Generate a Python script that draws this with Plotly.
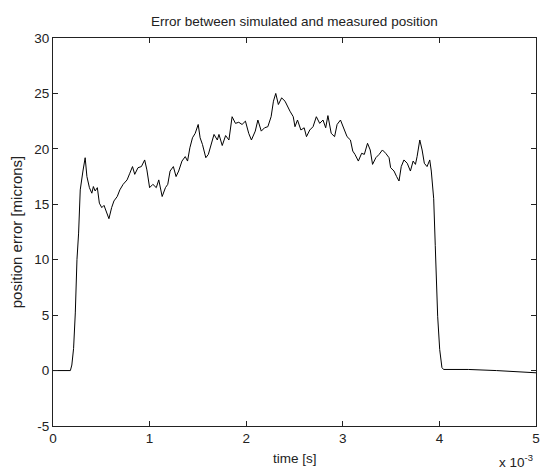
import plotly.graph_objects as go

# time in milliseconds (axis shown with x 10^-3 multiplier), error in microns
time_ms = [0.0, 0.10, 0.18, 0.195, 0.213, 0.231, 0.248, 0.265, 0.282, 0.310, 0.333, 0.351,
           0.377, 0.402, 0.418, 0.436, 0.459, 0.480, 0.505, 0.528, 0.549, 0.579, 0.607,
           0.631, 0.665, 0.692, 0.726, 0.767, 0.795, 0.823, 0.846, 0.880, 0.915, 0.949,
           0.972, 1.000, 1.034, 1.069, 1.095, 1.130, 1.164, 1.188, 1.212, 1.246, 1.274,
           1.301, 1.335, 1.369, 1.393, 1.417, 1.444, 1.472, 1.503, 1.523, 1.547, 1.582,
           1.608, 1.633, 1.667, 1.701, 1.718, 1.752, 1.787, 1.821, 1.854, 1.889, 1.923,
           1.957, 1.992, 2.026, 2.054, 2.094, 2.121, 2.156, 2.190, 2.224, 2.258, 2.282,
           2.306, 2.333, 2.367, 2.402, 2.429, 2.453, 2.487, 2.505, 2.531, 2.566, 2.600,
           2.624, 2.658, 2.692, 2.726, 2.761, 2.795, 2.823, 2.846, 2.880, 2.915, 2.941,
           2.976, 3.010, 3.044, 3.079, 3.103, 3.126, 3.161, 3.195, 3.223, 3.256, 3.284,
           3.308, 3.342, 3.376, 3.410, 3.444, 3.479, 3.495, 3.530, 3.557, 3.582, 3.605,
           3.633, 3.667, 3.700, 3.728, 3.752, 3.769, 3.797, 3.821, 3.844, 3.872, 3.900,
           3.916, 3.941, 3.957, 3.967, 3.982, 4.003, 4.026, 4.043, 4.300, 4.590, 4.800, 5.0]
error_um = [0.0, 0.0, 0.0, 0.5, 2.0, 5.2, 10.0, 12.4, 16.3, 18.0, 19.2, 17.5,
            16.5, 16.0, 16.6, 16.2, 16.5, 15.1, 14.7, 14.9, 14.4, 13.7, 14.7,
            15.3, 15.7, 16.3, 16.8, 17.2, 17.8, 18.4, 17.7, 18.3, 18.4, 19.0,
            18.1, 16.5, 16.8, 16.5, 17.2, 15.7, 16.5, 16.8, 18.0, 18.4, 17.5,
            18.0, 18.9, 19.3, 18.9, 20.1, 21.0, 21.4, 22.2, 21.0, 20.4, 19.2,
            19.5, 20.3, 21.3, 20.8, 21.3, 20.3, 21.2, 20.8, 22.9, 22.3, 22.4,
            22.2, 22.5, 21.4, 20.8, 21.6, 22.6, 21.6, 21.9, 22.0, 22.9, 24.3,
            25.0, 24.0, 24.6, 24.3, 23.8, 23.4, 22.9, 22.0, 22.6, 21.7, 21.9,
            21.1, 21.7, 22.0, 22.9, 22.3, 22.6, 21.9, 23.0, 21.4, 21.1, 22.2,
            22.6, 21.9, 21.1, 20.8, 19.8, 19.5, 18.9, 19.6, 19.5, 20.5, 19.9,
            18.6, 19.2, 19.5, 19.9, 19.6, 19.2, 18.3, 18.0, 17.5, 17.1, 18.4,
            19.0, 18.7, 18.0, 18.9, 18.6, 19.3, 20.8, 19.9, 18.7, 18.4, 19.0,
            18.0, 15.5, 11.3, 7.9, 4.9, 1.9, 0.28, 0.1, 0.1, 0.0, -0.1, -0.2]

x_ticks = [0, 1, 2, 3, 4, 5]
y_ticks = [-5, 0, 5, 10, 15, 20, 25, 30]

FONT = "Liberation Sans, Arial, Helvetica, sans-serif"
FS = 13.5

fig = go.Figure()
fig.add_trace(go.Scatter(x=time_ms, y=error_um, mode="lines",
                         line=dict(color="black", width=1.0), showlegend=False,
                         hoverinfo="skip"))

axis_common = dict(showline=True, linecolor="#222222", linewidth=1, mirror="ticks",
                   ticks="inside", ticklen=5, tickcolor="#222222", showgrid=False,
                   zeroline=False, ticklabeloverflow="allow",
                   tickfont=dict(family=FONT, size=FS, color="#222222"))

fig.update_xaxes(range=[0, 5], tickvals=x_ticks, ticktext=[str(v) for v in x_ticks],
                 **axis_common)
fig.update_yaxes(range=[-5, 30], tickvals=y_ticks, ticktext=[str(v) for v in y_ticks],
                 **axis_common)

W, H = 543, 469
L, R, T, B = 53, 3, 38, 43
ph = H - T - B
pw = W - L - R

fig.update_layout(
    width=W, height=H,
    margin=dict(l=L, r=R, t=T, b=B, pad=0),
    paper_bgcolor="white", plot_bgcolor="white",
    font=dict(family=FONT, size=FS, color="#222222"),
    annotations=[
        dict(text="Error between simulated and measured position", xref="paper", yref="paper",
             x=0.5, y=1 + (T - 22) / ph, xanchor="center", yanchor="middle",
             showarrow=False, font=dict(size=FS)),
        dict(text="time [s]", xref="paper", yref="paper", x=0.5, y=-(459 - (H - B)) / ph,
             xanchor="center", yanchor="middle", showarrow=False, font=dict(size=FS)),
        dict(text="position error [microns]", xref="paper", yref="paper",
             x=(16 - L) / pw, y=0.5, xanchor="center", yanchor="middle", textangle=-90,
             showarrow=False, font=dict(size=15)),
        dict(text="x 10<sup>-3</sup>", xref="paper", yref="paper",
             x=(501 - L) / pw, y=-(461 - (H - B)) / ph, xanchor="left", yanchor="middle",
             showarrow=False, font=dict(size=FS)),
    ],
)

fig.write_html("out.html", config={"displayModeBar": False},
               post_script="document.body.style.margin='0';")
